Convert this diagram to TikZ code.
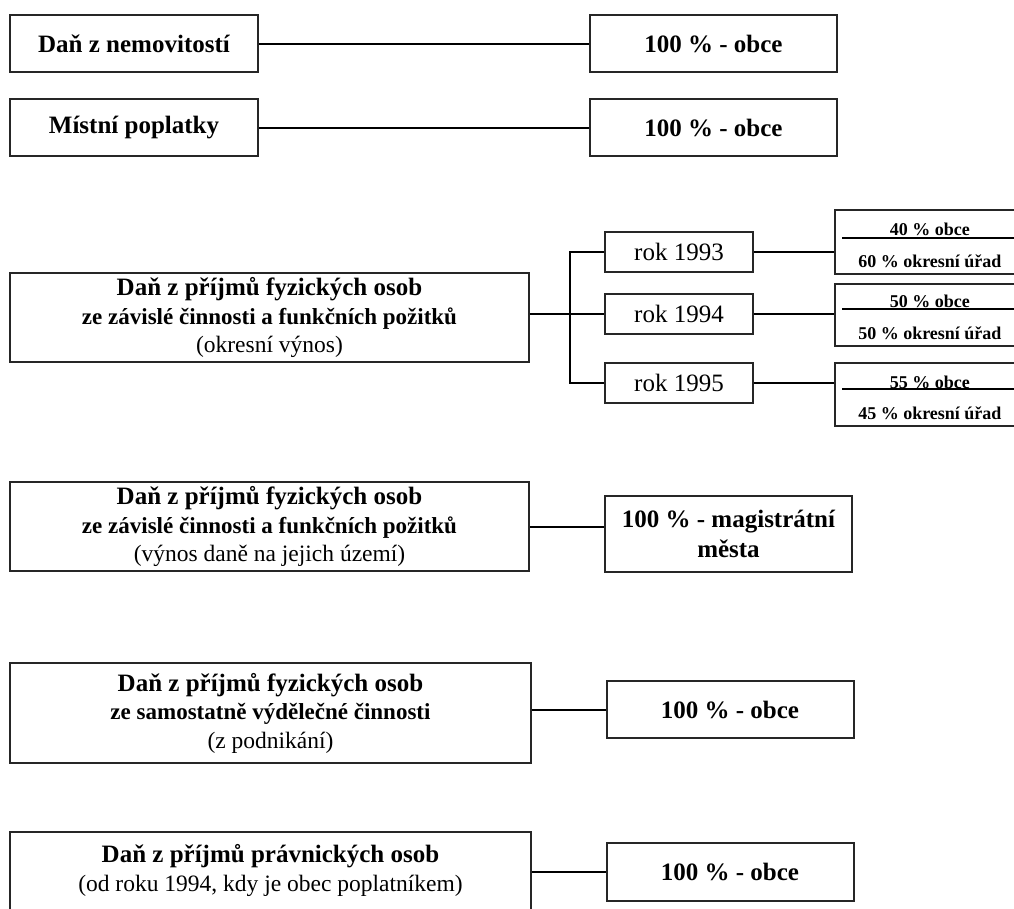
\documentclass[tikz,border=0pt]{standalone}
\usepackage{fontspec}
\setmainfont{Liberation Serif}
\usetikzlibrary{positioning,calc}
\newcommand{\headfont}{\fontsize{25}{28.5}\selectfont\bfseries}
\newcommand{\subfont}{\fontsize{23}{28.5}\selectfont\bfseries}
\newcommand{\notefont}{\fontsize{23.5}{28.5}\selectfont\mdseries}
\newcommand{\yearfont}{\fontsize{25}{28}\selectfont}
\newcommand{\partfont}{\fontsize{18}{20}\selectfont\bfseries}
\tikzset{
  taxbox/.style   = {draw=black!85, line width=2pt, align=center, inner sep=2pt,
                     font=\fontsize{25}{28.5}\selectfont},
  sharebox/.style = {draw=black!85, line width=2pt, align=center, inner sep=2pt,
                     minimum width=247pt, font=\headfont},
  yearbox/.style  = {draw=black!85, line width=1.8pt, minimum width=148pt,
                     minimum height=40pt, inner sep=2pt, font=\yearfont},
  splitbox/.style = {draw=black!85, line width=1.8pt, minimum width=190pt, anchor=north west},
  partlabel/.style= {font=\partfont, inner sep=0pt},
  divider/.style  = {draw=black, line width=1.8pt},
  link/.style     = {draw=black, line width=2pt},
}

\begin{document}
\begin{tikzpicture}[x=1pt,y=-1pt]
  \useasboundingbox (0,0) rectangle (1014,908);
  \clip (0,0) rectangle (1014,908);

  \node[taxbox,minimum width=248pt,minimum height=57pt,font=\headfont] (nem) at (134,43.5) {Daň z nemovitostí};
  \node[sharebox,minimum height=57pt,right=330pt of nem] (nemobce) {100 \% - obce};
  \draw[link] (nem) -- (nemobce);

  \node[taxbox,minimum width=248pt,minimum height=57pt,font=\headfont] (mist) at (134,127.5) {Místní poplatky};
  \node[sharebox,minimum height=57pt,right=330pt of mist] (mistobce) {100 \% - obce};
  \draw[link] (mist) -- (mistobce);

  \node[taxbox,minimum width=519pt,minimum height=89pt] (fo) at (269.5,317.5)
    {\headfont Daň z příjmů fyzických osob\\ \subfont ze závislé činnosti a funkčních požitků\\ \notefont (okresní výnos)};
  \node[yearbox] (r94) at (679,314) {rok 1994};
  \node[yearbox,above=20pt of r94] (r93) {rok 1993};
  \node[yearbox,below=27pt of r94] (r95) {rok 1995};
  \coordinate (fork) at ($(fo.east |- r94)+(40,0)$);
  \draw[link] (fo.east |- r94) -- (r94.west);
  \draw[link] (r93.west) -| (fork) |- (r95.west);

  \node[splitbox,minimum height=64pt] (s93) at (834,209) {};
  \node[partlabel] (s93a) at ($(s93.north)+(0,20)$) {40 \% obce};
  \node[partlabel] (s93b) at ($(s93.south)+(0,-14)$) {60 \% okresní úřad};
  \draw[divider] ($(s93.north west)+(8,29)$) -- ($(s93.north east)+(0,29)$);

  \node[splitbox,minimum height=62pt] (s94) at (834,283) {};
  \node[partlabel] (s94a) at ($(s94.north)+(0,18)$) {50 \% obce};
  \node[partlabel] (s94b) at ($(s94.south)+(0,-14)$) {50 \% okresní úřad};
  \draw[divider] ($(s94.north west)+(8,26)$) -- ($(s94.north east)+(0,26)$);

  \node[splitbox,minimum height=63pt] (s95) at (834,362) {};
  \node[partlabel] (s95a) at ($(s95.north)+(0,20)$) {55 \% obce};
  \node[partlabel] (s95b) at ($(s95.south)+(0,-14)$) {45 \% okresní úřad};
  \draw[divider] ($(s95.north west)+(8,27)$) -- ($(s95.north east)+(0,27)$);

  \draw[link] (r93.east) -- (r93.east -| s93.west);
  \draw[link] (r94.east) -- (r94.east -| s94.west);
  \draw[link] (r95.east) -- (r95.east -| s95.west);

  \node[taxbox,minimum width=519pt,minimum height=89pt] (mag) at (269.5,526.5)
    {\headfont Daň z příjmů fyzických osob\\ \subfont ze závislé činnosti a funkčních požitků\\ \notefont (výnos daně na jejich území)};
  \node[sharebox,minimum height=76pt,font=\fontsize{25}{30}\selectfont\bfseries] (magobce) at (728.5,534) {100 \% - magistrátní\\města};
  \draw[link] (mag.east) -- (mag.east -| magobce.west);

  \node[taxbox,minimum width=521pt,minimum height=100pt] (osvc) at (270.5,713)
    {\headfont Daň z příjmů fyzických osob\\ \subfont ze samostatně výdělečné činnosti\\ \notefont (z podnikání)};
  \node[sharebox,minimum height=57pt] (osvcobce) at (730,709.5) {100 \% - obce};
  \draw[link] (osvcobce.west) -- (osvcobce.west -| osvc.east);

  \node[taxbox,minimum width=521pt,minimum height=100pt] (po) at (270.5,882)
    {\headfont Daň z příjmů právnických osob\\ \notefont (od roku 1994, kdy je obec poplatníkem)\\ \mbox{}};
  \node[sharebox,minimum height=58pt] (poobce) at (730,872) {100 \% - obce};
  \draw[link] (poobce.west) -- (poobce.west -| po.east);
\end{tikzpicture}
\end{document}
